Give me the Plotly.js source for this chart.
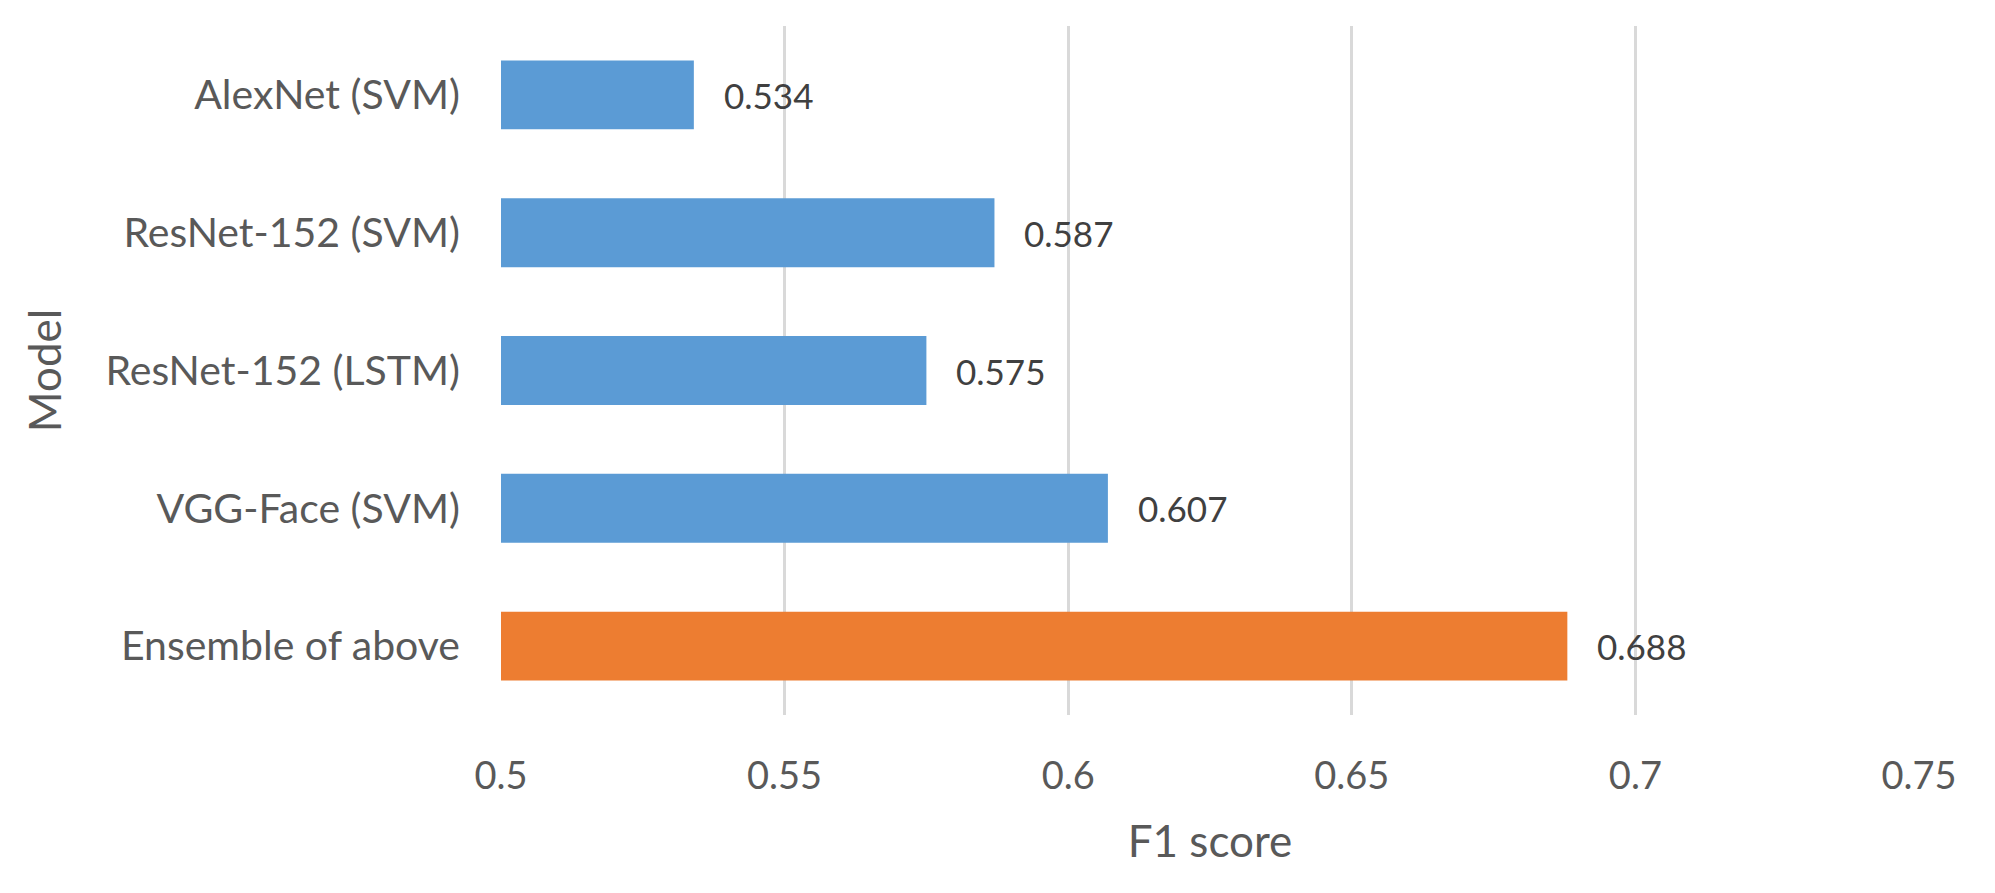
<!DOCTYPE html>
<html>
<head>
<meta charset="utf-8">
<script src="https://cdn.plot.ly/plotly-3.0.1.min.js"></script>
<style>html,body{margin:0;padding:0;background:#fff;}#chart{width:1995px;height:893px;}</style>
</head>
<body>
<div id="chart"></div>
<script>
const models = ["AlexNet (SVM)", "ResNet-152 (SVM)", "ResNet-152 (LSTM)", "VGG-Face (SVM)", "Ensemble of above"];
const f1Scores = [0.534, 0.587, 0.575, 0.607, 0.688];
const valueLabels = ["0.534", "0.587", "0.575", "0.607", "0.688"];
const xTicks = [0.5, 0.55, 0.6, 0.65, 0.7, 0.75];
const xTickLabels = ["0.5", "0.55", "0.6", "0.65", "0.7", "0.75"];
const barColors = ["#5B9BD5", "#5B9BD5", "#5B9BD5", "#5B9BD5", "#ED7D31"];

const FONT = "Lato, 'Open Sans', sans-serif";

const trace = {
  type: "bar",
  orientation: "h",
  x: f1Scores,
  y: models,
  marker: {color: barColors},
  hoverinfo: "x+y"
};

const annotations = models.map((m, i) => ({
  x: f1Scores[i], y: m, xref: "x", yref: "y",
  text: valueLabels[i], showarrow: false,
  xanchor: "left", yanchor: "middle", xshift: 28,
  font: {family: FONT, size: 35, color: "#404040"}
}));

const layout = {
  width: 1995, height: 893,
  margin: {l: 501, r: 76, t: 26, b: 178},
  paper_bgcolor: "#ffffff", plot_bgcolor: "#ffffff",
  showlegend: false,
  bargap: 0.5,
  xaxis: {
    range: [0.5, 0.75],
    tickvals: xTicks, ticktext: xTickLabels,
    showgrid: true, gridcolor: "#D9D9D9", gridwidth: 3,
    zeroline: false, showline: false, ticks: "",
    ticklabelstandoff: 35,
    tickfont: {family: FONT, size: 38, color: "#595959"},
    title: {text: "F1 score", font: {family: FONT, size: 44, color: "#595959"}, standoff: 30},
    automargin: false, fixedrange: true
  },
  yaxis: {
    type: "category",
    categoryorder: "array", categoryarray: models,
    autorange: "reversed",
    showgrid: false, zeroline: false, showline: false, ticks: "",
    ticklabelstandoff: 40,
    tickfont: {family: FONT, size: 41, color: "#595959"},
    title: {text: "Model", font: {family: FONT, size: 44, color: "#595959"}, standoff: 30},
    automargin: false, fixedrange: true
  },
  annotations: annotations
};

Plotly.newPlot("chart", [trace], layout, {displayModeBar: false, staticPlot: true});
</script>
</body>
</html>
